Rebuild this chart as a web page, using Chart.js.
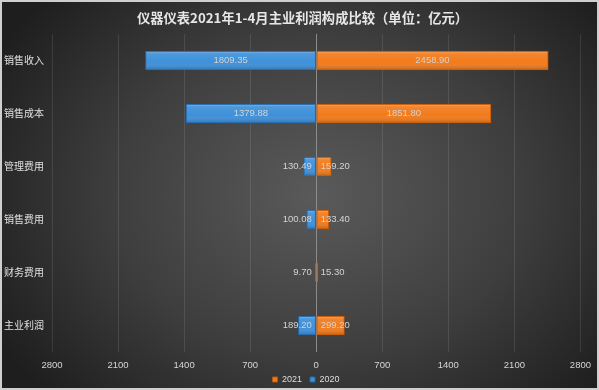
<!DOCTYPE html>
<html>
<head>
<meta charset="utf-8">
<script src="https://cdn.jsdelivr.net/npm/chart.js@4.4.1/dist/chart.umd.min.js"></script>
<style>
  html, body { margin: 0; padding: 0; background: #222; }
  #wrap { width: 599px; height: 390px; }
</style>
</head>
<body>
<div id="wrap"><canvas id="myChart" width="599" height="390"></canvas></div>
<script>
// データ
const categories = ['销售收入', '销售成本', '管理费用', '销售费用', '财务费用', '主业利润'];
const values2020 = [1809.35, 1379.88, 130.49, 100.08, 9.70, 189.20];
const values2021 = [2458.90, 1851.80, 159.20, 133.40, 15.30, 299.20];
const xMin = -2800, xMax = 2800, xStep = 700;

// 背景（放射グラデーション＋枠）、タイトルと凡例の位置調整
const bgPlugin = {
    id: 'bg',
    afterLayout(chart) {
        chart.titleBlock.left = 6;
        chart.titleBlock.right = chart.width;
        const lg = chart.legend;
        const hgt = lg.bottom - lg.top;
        lg.top = 367;
        lg.bottom = 367 + hgt;
        lg.left += 13;
        lg.right += 13;
    },
    beforeDraw(chart) {
        const c = chart.ctx, w = chart.width, h = chart.height;
        c.save();
        c.translate(w * 0.53, h * 0.5);
        c.scale(1, h / w * 1.2);
        const g = c.createRadialGradient(0, 0, 0, 0, 0, w * 0.62);
        g.addColorStop(0, '#5a5a5a');
        g.addColorStop(0.55, '#3e3e3e');
        g.addColorStop(1, '#1e1e1e');
        c.fillStyle = g;
        c.fillRect(-w, -h * 3, w * 2, h * 6);
        c.restore();
        c.save();
        c.strokeStyle = '#cfcfcf';
        c.lineWidth = 2;
        c.strokeRect(1, 1, w - 2, h - 2);
        c.restore();
    }
};

// 棒の立体感と数値ラベル
const barPlugin = {
    id: 'barDeco',
    afterDatasetsDraw(chart) {
        const c = chart.ctx;
        chart.data.datasets.forEach((ds, di) => {
            const meta = chart.getDatasetMeta(di);
            meta.data.forEach((bar, i) => {
                const p = bar.getProps(['x', 'y', 'base', 'height'], true);
                const left = Math.min(p.x, p.base), right = Math.max(p.x, p.base);
                const top = p.y - p.height / 2, bottom = p.y + p.height / 2;
                if (right - left > 1) {
                    const g = c.createLinearGradient(0, top, 0, bottom);
                    g.addColorStop(0, 'rgba(255,255,255,0.35)');
                    g.addColorStop(0.15, 'rgba(255,255,255,0.08)');
                    g.addColorStop(0.6, 'rgba(255,255,255,0)');
                    g.addColorStop(1, 'rgba(0,0,0,0.22)');
                    c.fillStyle = g;
                    c.fillRect(left + 1, top + 1, right - left - 2, bottom - top - 2);
                }
                // ラベル
                const txt = ds.raw[i].toFixed(2);
                c.save();
                c.font = '9.5px "Liberation Sans", Arial, sans-serif';
                c.fillStyle = '#d4d4d4';
                c.textBaseline = 'middle';
                const tw = c.measureText(txt).width;
                if (tw + 8 < right - left) {
                    c.textAlign = 'center';
                    c.fillText(txt, (left + right) / 2, p.y);
                } else if (p.x >= p.base) {
                    c.textAlign = 'left';
                    c.fillText(txt, p.base + 4, p.y);
                } else {
                    c.textAlign = 'right';
                    c.fillText(txt, p.base - 4, p.y);
                }
                c.restore();
            });
        });
    }
};

const ctx = document.getElementById('myChart').getContext('2d');
const myChart = new Chart(ctx, {
    type: 'bar',
    data: {
        labels: categories,
        datasets: [
            {
                label: '2021',
                raw: values2021,
                data: values2021,
                backgroundColor: '#f27b1c',
                borderColor: '#b9570a',
                borderWidth: 1,
                borderSkipped: false,
                barThickness: 19
            },
            {
                label: '2020',
                raw: values2020,
                data: values2020.map(v => -v),
                backgroundColor: '#3e90d9',
                borderColor: '#2466a3',
                borderWidth: 1,
                borderSkipped: false,
                barThickness: 19
            }
        ]
    },
    options: {
        indexAxis: 'y',
        responsive: false,
        animation: false,
        layout: { padding: { left: 4, right: 17, top: 0, bottom: -10 } },
        plugins: {
            title: {
                display: true,
                text: '仪器仪表2021年1-4月主业利润构成比较（单位：亿元）',
                color: '#e6e6e6',
                font: { family: '"Noto Sans CJK SC", sans-serif', size: 13.3, weight: 'bold' },
                padding: { top: 10, bottom: 8 }
            },
            legend: {
                position: 'bottom',
                labels: {
                    color: '#dddddd',
                    boxWidth: 5,
                    boxHeight: 5,
                    padding: 8,
                    font: { family: '"Liberation Sans", Arial, sans-serif', size: 9 }
                }
            },
            tooltip: { enabled: false }
        },
        scales: {
            x: {
                stacked: true,
                min: xMin,
                max: xMax,
                afterFit: s => { s.height = 21; },
                ticks: {
                    stepSize: xStep,
                    color: '#d6d6d6',
                    padding: 8,
                    maxRotation: 0,
                    font: { family: '"Liberation Sans", Arial, sans-serif', size: 9.5 },
                    callback: v => Math.abs(v)
                },
                grid: {
                    drawTicks: false,
                    color: c => c.tick && c.tick.value === 0 ? '#8c8c8c' : 'rgba(255,255,255,0.1)'
                },
                border: { display: false }
            },
            y: {
                stacked: true,
                afterFit: s => { s.width = 48; },
                ticks: {
                    crossAlign: 'far',
                    color: '#e0e0e0',
                    font: { family: '"Noto Sans CJK SC", sans-serif', size: 10 }
                },
                grid: { display: false },
                border: { display: false }
            }
        }
    },
    plugins: [bgPlugin, barPlugin]
});
</script>
</body>
</html>
